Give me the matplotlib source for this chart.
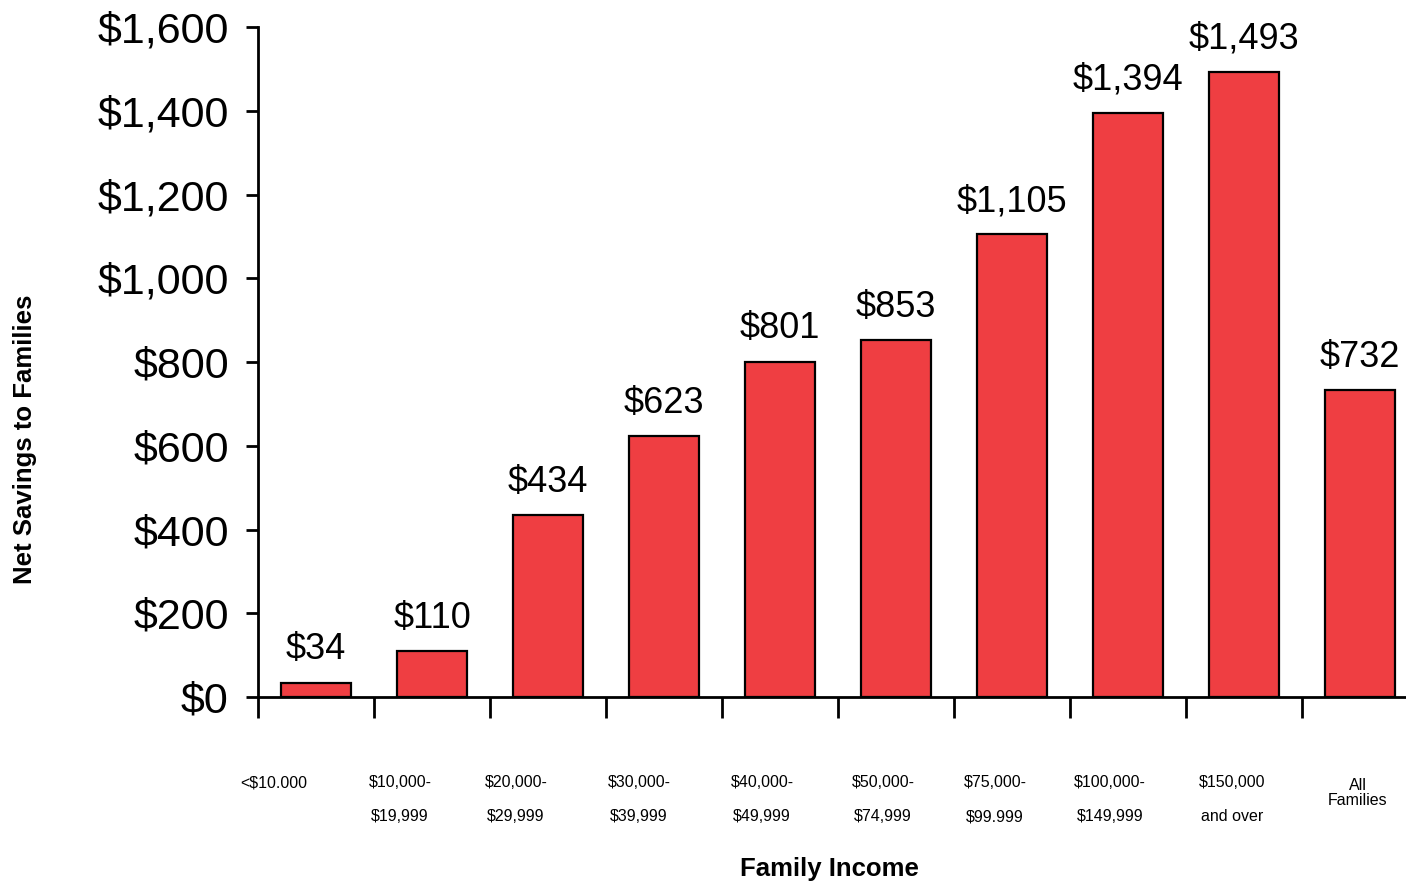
import matplotlib
matplotlib.use("Agg")
import matplotlib.pyplot as plt
from matplotlib.transforms import blended_transform_factory

plt.rcParams['font.family'] = ['Liberation Sans', 'DejaVu Sans']

# ---- data ----
categories_line1 = ["<$10.000", "$10,000-", "$20,000-", "$30,000-", "$40,000-",
                    "$50,000-", "$75,000-", "$100,000-", "$150,000", "All\nFamilies"]
categories_line2 = ["", "$19,999", "$29,999", "$39,999", "$49,999",
                    "$74,999", "$99.999", "$149,999", "and over", ""]
savings = [34, 110, 434, 623, 801, 853, 1105, 1394, 1493, 732]
y_ticks = [0, 200, 400, 600, 800, 1000, 1200, 1400, 1600]

# ---- layout (not data) ----
label_offsets = [-0.362, -0.276, -0.276, -0.216, -0.155, -0.112, -0.147, -0.155, -0.103, -0.017]

fig = plt.figure(figsize=(14.06, 8.84), dpi=100)
ax = fig.add_axes([258/1406, 1-697/884, (1406-258)/1406, (697-27)/884])

x = list(range(len(savings)))
ax.bar(x, savings, width=0.6, color="#EF3E42", edgecolor="black", linewidth=1.6, zorder=3)

for xi, v in zip(x, savings):
    ax.annotate(f"${v:,}", (xi, v), xytext=(0, 11), textcoords="offset points",
                ha="center", va="bottom", fontsize=26)

ax.set_ylim(0, 1600)
ax.set_xlim(-0.5, -0.5 + 1148/116)
ax.set_yticks(y_ticks)
ax.set_yticklabels([f"${t:,}" for t in y_ticks], fontsize=31)
ax.set_xticks([i - 0.5 for i in range(len(savings))])
ax.set_xticklabels([])
ax.tick_params(axis="y", length=9, width=2, pad=12)
ax.tick_params(axis="x", length=15, width=2)

for s in ["top", "right"]:
    ax.spines[s].set_visible(False)
ax.spines["left"].set_linewidth(2)
ax.spines["bottom"].set_linewidth(2)
ax.spines["left"].set_bounds(0, 1600)

trans = blended_transform_factory(ax.transData, ax.transAxes)
for i, (l1, l2) in enumerate(zip(categories_line1, categories_line2)):
    xp = i + label_offsets[i]
    if l2:
        ax.text(xp, -0.128, l1, transform=trans, ha="center", va="center", fontsize=11.5)
        ax.text(xp, -0.179, l2, transform=trans, ha="center", va="center", fontsize=11.5)
    else:
        ax.text(xp, -0.128 if "\n" not in l1 else -0.143, l1, transform=trans,
                ha="center", va="center", fontsize=11.5, linespacing=1.05)

ax.text(0.498, -0.257, "Family Income", transform=ax.transAxes, ha="center", va="center",
        fontsize=18.5, fontweight="bold")
ax.text(-0.203, 0.384, "Net Savings to Families", transform=ax.transAxes, ha="center",
        va="center", rotation=90, fontsize=18.5, fontweight="bold")

fig.savefig("out.png", dpi=100)
